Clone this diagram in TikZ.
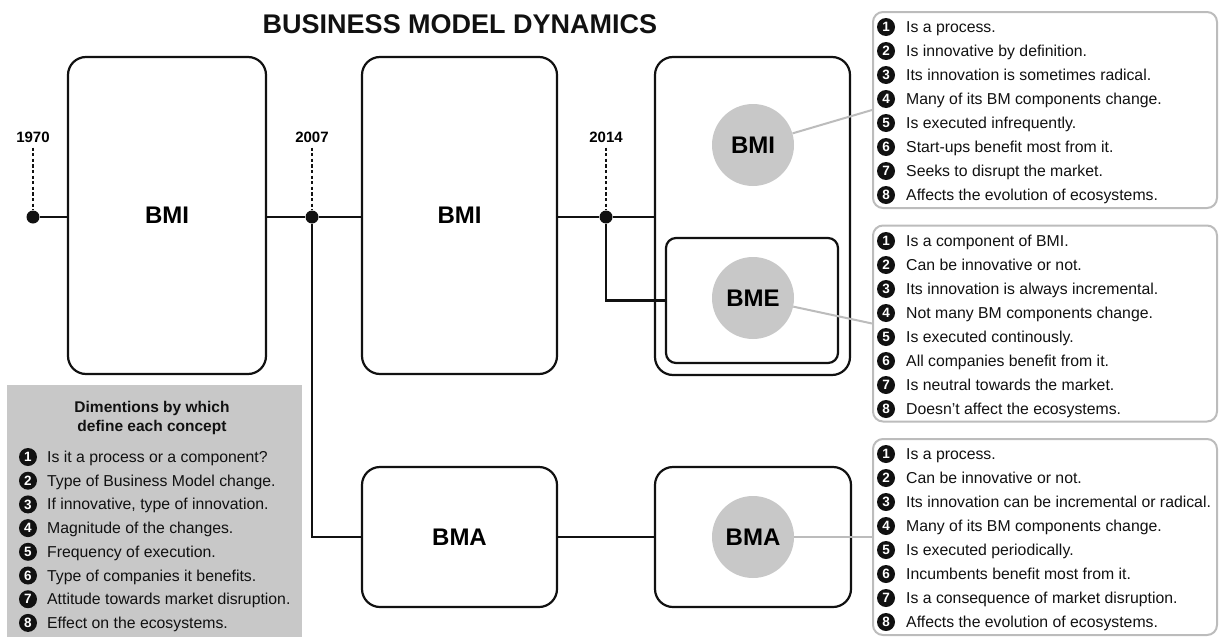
\documentclass[tikz,border=0pt]{standalone}
\usepackage{fontspec}
\setmainfont{Liberation Sans}
\usetikzlibrary{calc}
\definecolor{fillgray}{RGB}{200,200,200}
\definecolor{framegray}{RGB}{188,188,188}
\definecolor{ink}{RGB}{17,17,17}

\begin{document}
\begin{tikzpicture}[x=1pt,y=-1pt,
  bigbox/.style={draw=ink, line width=2.2pt, rounded corners=18pt, inner sep=0pt,
    font=\fontsize{24}{28}\selectfont\bfseries},
  innerbox/.style={draw=ink, line width=2.2pt, rounded corners=10pt, inner sep=0pt},
  concept/.style={circle, fill=fillgray, minimum size=82pt, inner sep=0pt,
    font=\fontsize{24}{28}\selectfont\bfseries},
  yeardot/.style={circle, fill=ink, minimum size=13pt, inner sep=0pt},
  yearlabel/.style={font=\fontsize{15}{18}\selectfont\bfseries, inner sep=1pt},
  tick/.style={ink, line width=2.6pt, dash pattern=on 3.2pt off 2.4pt},
  wire/.style={ink, line width=2.2pt},
  link/.style={framegray, line width=2pt},
  infobox/.style={draw=framegray, line width=2pt, rounded corners=10pt,
    minimum width=344pt, minimum height=196pt, inner sep=0pt},
  numdot/.style={circle, fill=ink, minimum size=18pt, inner sep=0pt,
    text=white, font=\fontsize{13.5}{15}\selectfont\bfseries},
  item/.style={anchor=west, inner sep=0pt, text height=11pt, text depth=0pt,
    font=\fontsize{15.8}{18}\selectfont, text=ink},
  legendbox/.style={fill=fillgray, inner sep=0pt, minimum width=295pt, minimum height=252pt},
]
\useasboundingbox (0,0) rectangle (1220,637);

% title
\node[font=\fontsize{27}{32}\selectfont\bfseries, text=ink] (title) at (460,24) {BUSINESS MODEL DYNAMICS};

% main blocks
\node[bigbox, minimum width=198pt, minimum height=317pt] (bmiA) at (167,215.5) {BMI};
\node[bigbox, minimum width=195pt, minimum height=317pt] (bmiB) at (459.5,215.5) {BMI};
\node[bigbox, minimum width=195pt, minimum height=318pt] (split) at (752.5,216) {};
\node[innerbox, minimum width=172pt, minimum height=125pt] (bmebox) at (752,300.5) {};
\node[bigbox, minimum width=195pt, minimum height=140pt] (bmaA) at (459.5,537) {BMA};
\node[bigbox, minimum width=196pt, minimum height=140pt] (bmaB) at (753,537) {};

% concept circles
\node[concept] (cbmi) at (753,145) {BMI};
\node[concept] (cbme) at (753,298) {BME};
\node[concept] (cbma) at (753,537) {BMA};

% timeline points
\node[yeardot] (d1970) at (33,217) {};
\node[yeardot] (d2007) at (312,217) {};
\node[yeardot] (d2014) at (606,217) {};
\node[yearlabel] (y1970) at (33,137) {1970};
\node[yearlabel] (y2007) at (312,137) {2007};
\node[yearlabel] (y2014) at (606,137) {2014};
\draw[tick] ($(y1970.south)+(0,4)$) -- (d1970);
\draw[tick] ($(y2007.south)+(0,4)$) -- (d2007);
\draw[tick] ($(y2014.south)+(0,4)$) -- (d2014);

% timeline wiring
\draw[wire] (d1970) -- (d1970 -| bmiA.west);
\draw[wire] (bmiA.east |- d2007) -- (d2007) -- (d2007 -| bmiB.west);
\draw[wire] (bmiB.east |- d2014) -- (d2014) -- (d2014 -| split.west);
\draw[wire] (d2014) |- (bmebox.west);
\draw[wire] (d2007) |- (bmaA.west);
\draw[wire] (bmaA) -- (bmaB);

% description panels
\node[infobox] (infoA) at (1045,110) {};
\node[infobox] (infoB) at (1045,323.5) {};
\node[infobox] (infoC) at (1045,537) {};
\draw[link] (cbmi) -- (infoA.west);
\draw[link] (cbme) -- (infoB.west);
\draw[link] (cbma) -- (infoC.west);

\foreach \t [count=\i] in {Is a process., Is innovative by definition.,
  Its innovation is sometimes radical., Many of its BM components change.,
  Is executed infrequently., Start-ups benefit most from it.,
  Seeks to disrupt the market., Affects the evolution of ecosystems.} {
  \node[numdot] (na\i) at (886,{27+24*(\i-1)}) {\i};
  \node[item] (ta\i) at (906,{27+24*(\i-1)}) {\t};
}
\foreach \t [count=\i] in {Is a component of BMI., Can be innovative or not.,
  Its innovation is always incremental., Not many BM components change.,
  Is executed continously., All companies benefit from it.,
  Is neutral towards the market., Doesn’t affect the ecosystems.} {
  \node[numdot] (nb\i) at (886,{241+24*(\i-1)}) {\i};
  \node[item] (tb\i) at (906,{241+24*(\i-1)}) {\t};
}
\foreach \t [count=\i] in {Is a process., Can be innovative or not.,
  Its innovation can be incremental or radical., Many of its BM components change.,
  Is executed periodically., Incumbents benefit most from it.,
  Is a consequence of market disruption., Affects the evolution of ecosystems.} {
  \node[numdot] (nc\i) at (886,{454+24*(\i-1)}) {\i};
  \node[item] (tc\i) at (906,{454+24*(\i-1)}) {\t};
}

% legend
\node[legendbox] (legend) at (154.5,511) {};
\node[align=center, font=\fontsize{15.5}{19}\selectfont\bfseries, text=ink] (lhead) at (152,418)
  {Dimentions by which\\define each concept};
\foreach \t [count=\i] in {Is it a process or a component?, Type of Business Model change.,
  {If innovative, type of innovation.}, Magnitude of the changes.,
  Frequency of execution., Type of companies it benefits.,
  Attitude towards market disruption., Effect on the ecosystems.} {
  \node[numdot] (nl\i) at (28,{457+23.7*(\i-1)}) {\i};
  \node[item] (tl\i) at (47,{457+23.7*(\i-1)}) {\t};
}
\end{tikzpicture}
\end{document}
